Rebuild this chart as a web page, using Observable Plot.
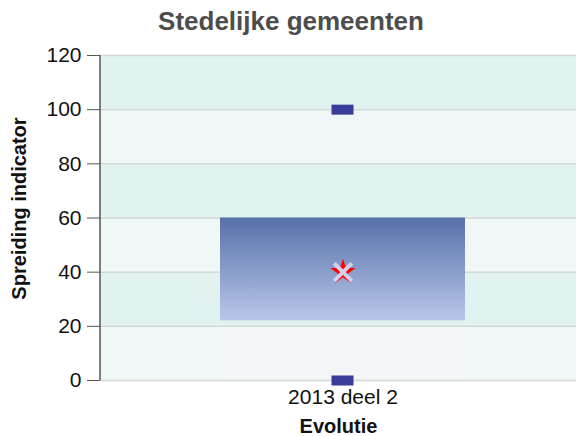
<!DOCTYPE html>
<html><head><meta charset="utf-8">
<script src="https://cdn.jsdelivr.net/npm/d3@7"></script>
<script src="https://cdn.jsdelivr.net/npm/@observablehq/plot@0.6"></script>
<style>
body{margin:0;background:#fff;font-family:"Liberation Sans",Arial,sans-serif;}
#title{height:40px;line-height:42px;overflow:visible;text-align:center;font-weight:bold;font-size:26px;color:#4d4d4d;width:576px;padding-left:6px;box-sizing:border-box}
</style></head><body>
<div id="title">Stedelijke gemeenten</div>
<div id="chart"></div>
<script>
const categories = ["2013 deel 2"];
const lowerQuartile = [22];
const upperQuartile = [60];
const minimum = [0];
const maximum = [100];
const mean = [40];
const yTicks = [0, 20, 40, 60, 80, 100, 120];

const rows = categories.map((c, i) => ({cat: c, q1: lowerQuartile[i], q3: upperQuartile[i], min: minimum[i], max: maximum[i], mean: mean[i]}));
const bands = yTicks.slice(0, -1).map((v, i) => ({lo: v, hi: yTicks[i + 1], dark: i % 2 === 1}));

const defs = () => {
  const d = d3.create("svg:defs");
  const g = d.append("linearGradient").attr("id", "boxGrad").attr("x1", 0).attr("y1", 0).attr("x2", 0).attr("y2", 1);
  g.append("stop").attr("offset", "0%").attr("stop-color", "#5571a8");
  g.append("stop").attr("offset", "100%").attr("stop-color", "#bac7ea");
  return d.node();
};

const chart = Plot.plot({
  width: 576, height: 396,
  marginTop: 15, marginBottom: 56, marginLeft: 100, marginRight: 0,
  style: {fontFamily: "'Liberation Sans', Arial, sans-serif", fontSize: "21px", color: "#111", background: "transparent", overflow: "visible"},
  x: {type: "band", domain: categories, range: [220, 465], padding: 0},
  y: {domain: [0, 120]},
  marks: [
    defs,
    Plot.rect(bands.filter(d => !d.dark), {y1: "lo", y2: "hi", fill: "#f0f8f7"}),
    Plot.barY(rows, {x: "cat", y1: "min", y2: "q1", fill: "#f3f6f6"}),
    Plot.rect(bands.filter(d => d.dark), {y1: "lo", y2: "hi", fill: "#e2f2f0"}),
    Plot.ruleY(yTicks, {stroke: "#d2d9d8", strokeWidth: 1.5}),
    Plot.barY(rows, {x: "cat", y1: "q1", y2: "q3", fill: "url(#boxGrad)"}),
    Plot.tickY(rows, {x: "cat", y: "min", stroke: "#3b3b99", strokeWidth: 10, insetLeft: 111.5, insetRight: 111.5}),
    Plot.tickY(rows, {x: "cat", y: "max", stroke: "#3b3b99", strokeWidth: 10, insetLeft: 111.5, insetRight: 111.5}),
    Plot.dot(rows, {x: "cat", y: "mean", symbol: "star", fill: "#ff0000", r: 8}),
    Plot.dot(rows, {x: "cat", y: "mean", symbol: "times", stroke: "#d4d0ec", strokeWidth: 4, r: 8}),
    Plot.axisY({ticks: yTicks, tickSize: 13, tickPadding: 6, stroke: "#555", fill: "#111", fontSize: 21, label: null}),
    Plot.axisX({tickSize: 0, tickPadding: 9, fill: "#111", fontSize: 21, label: null}),
    Plot.ruleX([0], {x: null, y1: 0, y2: 120, dx: -238.5, stroke: "#555", strokeWidth: 1.5}),
    Plot.text(["Evolutie"], {frameAnchor: "bottom", dy: 52, fontWeight: "bold", fontSize: 20, fill: "#111"}),
    Plot.text(["Spreiding indicator"], {frameAnchor: "left", textAnchor: "middle", lineAnchor: "middle", rotate: -90, dx: -81, dy: -9.5, fontWeight: "bold", fontSize: 20, fill: "#111"})
  ]
});
document.getElementById("chart").appendChild(chart);
</script>
</body></html>
